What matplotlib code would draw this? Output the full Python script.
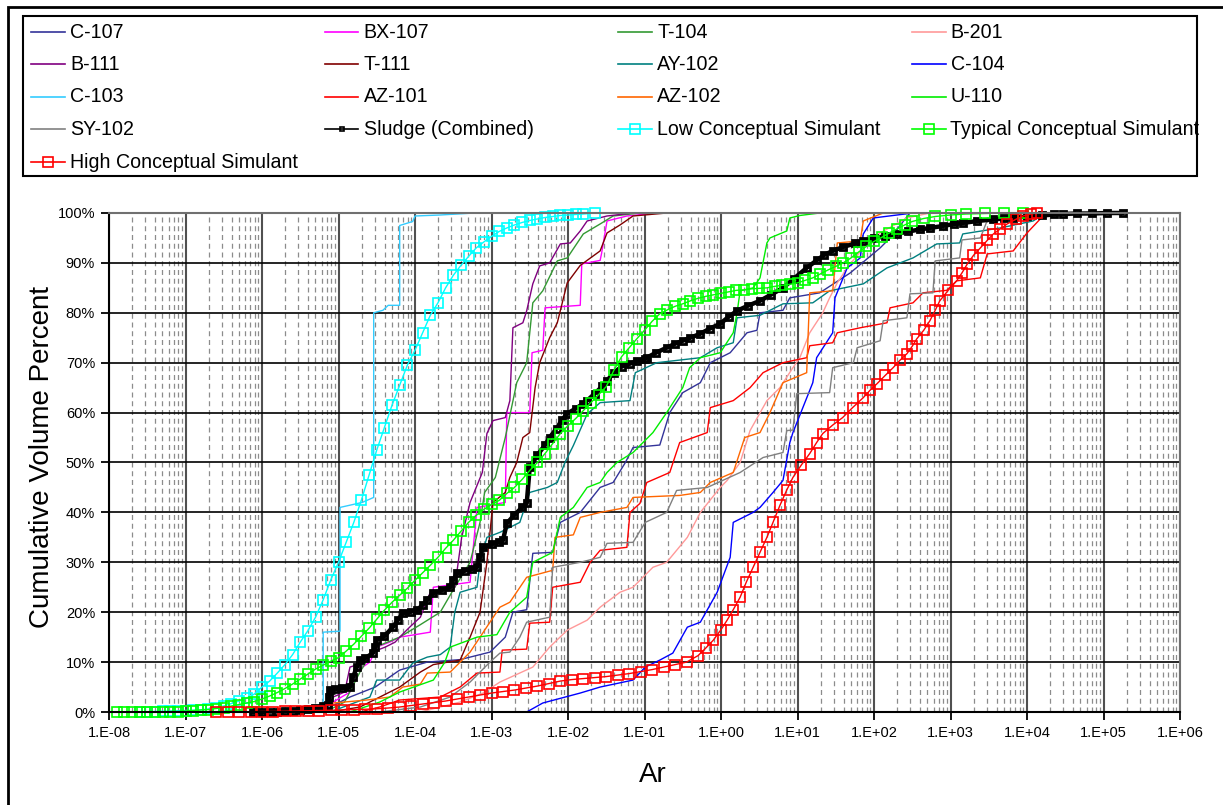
import numpy as np
import matplotlib
matplotlib.use("Agg")
import matplotlib.pyplot as plt
from matplotlib.lines import Line2D
from matplotlib.patches import Rectangle
from matplotlib.ticker import LogLocator, FuncFormatter, NullFormatter

plt.rcParams['font.family'] = ['Liberation Sans', 'DejaVu Sans']

# x values are log10(Ar), y values are cumulative volume %
c107_logar = [-5.50, -5.11, -4.85, -4.52, -4.20, -3.84, -3.41, -3.02, -2.82, -2.72, -2.54, -2.46, -2.20, -2.10, -1.84,
              -1.58, -1.41, -1.25, -1.15, -0.80, -0.67, -0.50, -0.27, -0.14, 0.12, 0.34, 0.47, 0.51, 0.81, 0.90,
              1.29, 1.69, 2.08, 2.21, 2.47]
c107_pct = [0, 1, 3, 5, 8.4, 10, 10.5, 12, 15, 20, 20.5, 31.8, 32, 38, 40, 45, 46, 50, 53, 53.5, 60, 64, 66, 70, 72,
            76, 76.5, 80, 80.5, 83, 84, 88, 93, 95, 100]

bx107_logar = [-5.76, -5.11, -5.07, -4.85, -4.78, -4.59, -4.50, -4.33, -4.20, -3.80, -3.76, -3.28, -3.19, -2.82, -2.80,
               -2.50, -2.47, -2.33, -2.30, -1.84, -1.82, -1.58, -1.56, -1.49, -1.23, -0.84, 0.12]
bx107_pct = [0, 0.5, 2, 4, 8, 10, 13, 14, 15, 16, 25, 26, 41, 42, 60, 60, 72, 72.5, 81, 81.5, 89.8, 90.5, 92, 98.4,
             99.4, 100, 100]

t104_logar = [-5.50, -5.11, -4.92, -4.72, -4.52, -4.20, -3.93, -3.67, -3.48, -3.28, -3.15, -3.09, -2.95, -2.82, -2.67,
              -2.54, -2.46, -2.33, -2.14, -2.01, -1.80, -1.58, -1.41, -1.06, -0.58]
t104_pct = [0, 0.5, 2, 8, 13, 15, 17.5, 20, 25, 30, 38, 44, 47, 55, 66, 70, 82, 84.4, 90.4, 91, 95.8, 97.8, 99.4, 100, 100]

b201_logar = [-3.93, -3.67, -3.41, -3.11, -2.89, -2.46, -2.24, -2.01, -1.75, -1.58, -1.32, -1.15, -0.89, -0.71, -0.44,
              -0.27, -0.01, 0.08, 0.25, 0.38, 0.60, 0.77, 0.94, 1.03, 1.16, 1.33, 1.42, 1.52, 1.65, 1.91, 2.08, 2.43, 2.73]
b201_pct = [0, 1, 2, 3.8, 6, 9, 13, 16.4, 18.4, 21, 24, 25, 29, 30, 35, 40, 45, 46.4, 50, 56.4, 62.4, 65, 69, 71, 76,
            80, 83, 86, 89, 94, 96, 99, 100]

b111_logar = [-5.50, -5.11, -5.07, -4.92, -4.85, -4.65, -4.56, -4.39, -4.26, -4.20, -4.07, -3.93, -3.80, -3.48, -3.39,
              -3.28, -3.12, -3.06, -2.98, -2.82, -2.76, -2.72, -2.59, -2.54, -2.46, -2.37, -2.24, -2.10, -1.97, -1.84,
              -1.75, -1.49, -1.15]
b111_pct = [0, 0.5, 3, 4, 9, 10, 12, 13, 14, 15, 17, 19, 24, 25, 35, 42, 48, 55.8, 58.4, 59, 62.4, 77, 78, 80.4, 85.8,
            89.4, 90, 93.8, 94, 96.4, 98.4, 99.4, 100]

t111_logar = [-5.11, -4.72, -4.46, -4.20, -3.93, -3.76, -3.41, -3.28, -3.15, -3.06, -2.98, -2.82, -2.76, -2.67, -2.59,
              -2.50, -2.43, -2.37, -2.24, -2.14, -2.01, -1.84, -1.58, -1.49, -1.32, -1.15, -0.71, -0.54]
t111_pct = [0, 1, 3, 5, 8, 9.5, 10.4, 15, 20, 30, 42, 44, 47, 50, 55, 56, 65, 70, 75, 78, 86, 89.5, 92.4, 96, 97.6,
            99.4, 100, 100]

ay102_logar = [-5.11, -4.59, -4.50, -4.20, -4.03, -3.84, -3.67, -3.54, -3.48, -3.41, -3.19, -3.15, -3.06, -2.89, -2.76,
               -2.63, -2.50, -2.27, -2.14, -2.04, -1.93, -1.75, -1.58, -1.19, -1.12, -0.84, -0.27, -0.05, 0.16, 0.21,
               0.51, 0.81, 1.20, 1.42, 1.86, 2.17, 2.51, 2.82, 3.12, 3.16, 3.65, 4.08, 4.24]
ay102_pct = [0, 3, 6.4, 6.4, 9.8, 11, 11.5, 13, 20, 24, 25, 30, 35, 36, 37, 38, 44, 45, 46, 50, 53.4, 59.7, 62, 62.4,
             68, 70, 71, 73, 74, 79, 79.5, 81.8, 82, 84.4, 85.8, 89, 91, 93.8, 94, 95.8, 97, 98.4, 100]

c104_logar = [-2.54, -2.33, -1.84, -1.58, -1.15, -0.99, -0.80, -0.63, -0.44, -0.27, -0.05, 0.12, 0.16, 0.42, 0.51,
              0.68, 0.81, 0.90, 0.94, 1.20, 1.25, 1.46, 1.49, 1.65, 1.82, 1.86, 1.99, 2.51]
c104_pct = [0, 1.8, 3.8, 5, 6.4, 9, 10.4, 11.8, 17, 18, 24, 31, 38, 40, 41, 44, 46.4, 54, 56, 66, 71, 76, 83, 89, 91,
            95.8, 99, 100]

c103_logar = [-5.53, -5.20, -5.20, -4.98, -4.98, -4.69, -4.54, -4.54, -4.42, -4.35, -4.20, -4.20, -4.03, -4.00,
              -3.67, -3.22]
c103_pct = [0, 0.5, 16, 16.2, 41, 42, 43, 80, 80.5, 81.5, 81.5, 97.5, 98.3, 99.4, 99.6, 100]

az101_logar = [-4.72, -4.46, -4.20, -3.67, -3.41, -3.19, -2.89, -2.86, -2.54, -2.50, -2.24, -2.20, -1.84, -1.71, -1.58,
               -1.23, -1.19, -1.06, -0.97, -0.67, -0.54, -0.18, -0.14, 0.16, 0.38, 0.55, 0.81, 1.12, 1.16, 1.46,
               1.52, 1.82, 2.17, 2.21, 2.51, 2.64, 2.95, 3.08, 3.39, 3.48, 3.82, 4.00, 4.21, 4.43, 5.44]
az101_pct = [0, 1, 2.4, 3, 5, 7.8, 8, 12.4, 12.6, 17.8, 18, 25, 26, 30, 32.4, 33, 40, 41.8, 46, 48, 54, 56, 61, 62.4,
             65, 68, 70, 71, 73.4, 74, 76, 77, 78, 81, 82, 84, 84.5, 86.4, 87, 91.8, 92.4, 96, 99.4, 100, 100]

az102_logar = [-5.50, -5.07, -4.63, -4.33, -4.16, -3.93, -3.84, -3.54, -3.28, -3.02, -2.89, -2.76, -2.54, -2.20, -2.17,
               -1.93, -1.84, -1.58, -1.23, -1.15, -0.54, -0.27, -0.14, 0.16, 0.31, 0.51, 0.64, 0.81, 1.12, 1.16,
               1.46, 1.52, 1.82, 1.86, 2.12]
az102_pct = [0, 1.8, 2.4, 3, 5, 5.6, 7.8, 8, 12, 18, 21, 22, 27, 28.4, 35, 35.5, 39, 40, 41, 43, 43.4, 44, 46, 48, 55,
             56, 60, 66, 68, 84, 84.4, 94, 94.4, 98.4, 100]

u110_logar = [-4.85, -4.46, -4.20, -3.76, -3.61, -3.54, -3.19, -2.93, -2.76, -2.54, -2.46, -2.20, -2.10, -1.93, -1.75,
              -1.58, -1.49, -1.36, -1.15, -0.89, -0.71, -0.50, -0.41, -0.27, -0.01, 0.16, 0.21, 0.25, 0.42, 0.51,
              0.60, 0.64, 0.86, 0.90, 1.03, 1.29, 2.08]
u110_pct = [0, 2, 4, 6.4, 10, 13, 15, 15.5, 20, 23, 30, 32, 39, 41, 45, 46, 48, 50, 52, 56, 60, 65, 69, 71, 72, 76, 80,
            84.4, 85, 87, 94, 95, 96.4, 99, 99.5, 100, 100]

sy102_logar = [-4.46, -3.93, -3.54, -3.28, -3.02, -2.89, -2.76, -2.63, -2.54, -2.24, -2.20, -1.84, -1.58, -1.49, -1.15,
               -0.99, -0.71, -0.58, -0.18, 0.25, 0.55, 0.81, 0.86, 0.94, 0.99, 1.42, 1.46, 1.73, 1.78, 2.08, 2.12,
               2.43, 2.47, 2.77, 2.80, 3.12, 3.15, 3.39, 3.48, 3.82, 4.26]
sy102_pct = [0, 1, 3, 6, 10, 11.8, 12, 15, 18, 19, 29, 30, 31, 33.8, 34, 38, 40, 44.4, 45, 48, 51, 52, 56.4, 56.5, 63.8,
             64, 69, 70, 73, 74.4, 78.4, 79, 83.8, 84, 90.4, 91, 94.6, 95, 98.5, 99, 100]

sludge_logar = [-6.12, -6.0, -5.9, -5.8, -5.7, -5.6, -5.5, -5.4, -5.31, -5.2,
                -5.14, -5.12, -5.11, -5.05, -4.95, -4.85, -4.81, -4.76, -4.72, -4.65,
                -4.55, -4.52, -4.50, -4.4, -4.29, -4.22, -4.16, -4.05, -3.97, -3.9,
                -3.84, -3.76, -3.65, -3.54, -3.5, -3.45, -3.35, -3.25, -3.19, -3.15,
                -3.11, -3.0, -2.9, -2.85, -2.80, -2.7, -2.6, -2.54, -2.5, -2.4,
                -2.3, -2.24, -2.15, -2.08, -2.01, -1.9, -1.8, -1.75, -1.65, -1.55,
                -1.49, -1.4, -1.3, -1.19, -1.1, -1.0, -0.97, -0.85, -0.71, -0.6,
                -0.5, -0.4, -0.27, -0.15, -0.01, 0.1, 0.21, 0.35, 0.51, 0.65,
                0.81, 0.95, 1.12, 1.25, 1.35, 1.46, 1.6, 1.75, 1.86, 2.0,
                2.15, 2.30, 2.45, 2.6, 2.73, 2.9, 3.05, 3.16, 3.35, 3.55,
                3.7, 3.82, 4.0, 4.2, 4.35, 4.47, 4.65, 4.85, 5.05, 5.25]
sludge_pct = [0, 0, 0.1, 0.1, 0.2, 0.3, 0.4, 0.6, 0.8, 1.2,
              1.5, 3.0, 4.4, 4.6, 4.8, 5.0, 7, 9, 10.4, 10.8,
              11.8, 13, 14.4, 15.2, 17, 18.5, 19.8, 20.1, 20.4, 21.5,
              22.4, 23.8, 24.4, 25, 26.5, 27.8, 28.3, 28.7, 29, 31,
              33, 33.6, 34.1, 34.4, 37.8, 39.5, 41, 41.8, 49, 51.5,
              53.5, 55, 56.8, 58.5, 59.8, 60.8, 61.8, 62.4, 63.8, 65.3,
              66.4, 68.0, 69.2, 69.8, 70.3, 70.8, 71, 72.0, 73, 73.8,
              74.4, 75.0, 75.8, 76.8, 77.8, 79.2, 80.4, 81.4, 82.4, 83.6,
              85, 86.8, 89, 90.5, 91.6, 92.4, 93.2, 93.9, 94.4, 94.9,
              95.4, 95.8, 96.3, 96.7, 97, 97.4, 97.8, 98, 98.4, 98.7,
              98.9, 99, 99.3, 99.5, 99.7, 99.8, 99.9, 99.9, 100, 100]

low_logar = [-7.59, -7.5, -7.4, -7.3, -7.2, -7.1, -7.0, -6.9, -6.8, -6.7, -6.6, -6.5, -6.4, -6.3, -6.2, -6.1, -6.0,
             -5.9, -5.8, -5.7, -5.6, -5.5, -5.4, -5.3, -5.2, -5.1, -5.0, -4.9, -4.8, -4.7, -4.6, -4.5, -4.4, -4.3,
             -4.2, -4.1, -4.0, -3.9, -3.8, -3.7, -3.6, -3.5, -3.4, -3.3, -3.2, -3.1, -3.0, -2.9, -2.8, -2.7, -2.6,
             -2.5, -2.4, -2.3, -2.2, -2.1, -2.0, -1.9, -1.8, -1.65]
low_pct = [0, 0.05, 0.1, 0.15, 0.2, 0.25, 0.3, 0.35, 0.45, 0.6, 0.9, 1.2, 1.7, 2.2, 2.8, 3.6, 5.0, 6.2, 7.8, 9.5,
           11.5, 14, 16.3, 19, 22.5, 26.5, 30, 34, 38, 42.5, 47.5, 52.5, 57, 61.5, 65.5, 69.5, 72.5, 76, 79.5, 82,
           85, 87.5, 89.5, 91.3, 93, 94.2, 95.3, 96.3, 97, 97.6, 98.1, 98.5, 98.8, 99.1, 99.3, 99.5, 99.6, 99.7,
           99.8, 100]

typical_logar = [-7.9, -7.8, -7.7, -7.6, -7.5, -7.4, -7.3, -7.2, -7.1, -7.0,
                 -6.9, -6.8, -6.7, -6.6, -6.5, -6.4, -6.3, -6.2, -6.1, -6.0,
                 -5.9, -5.8, -5.7, -5.6, -5.5, -5.4, -5.3, -5.2, -5.1, -5.0,
                 -4.9, -4.8, -4.7, -4.6, -4.5, -4.4, -4.3, -4.2, -4.1, -4.0,
                 -3.9, -3.8, -3.7, -3.6, -3.5, -3.4, -3.3, -3.2, -3.1, -3.0,
                 -2.9, -2.8, -2.7, -2.6, -2.5, -2.4, -2.3, -2.2, -2.1, -2.0,
                 -1.9, -1.8, -1.7, -1.6, -1.5, -1.4, -1.3, -1.2, -1.1, -1.0,
                 -0.9, -0.8, -0.7, -0.6, -0.5, -0.4, -0.3, -0.2, -0.1, 0.0,
                 0.1, 0.2, 0.3, 0.4, 0.5, 0.6, 0.7, 0.8, 0.9, 1.0,
                 1.1, 1.2, 1.3, 1.4, 1.5, 1.6, 1.7, 1.8, 1.9, 2.0,
                 2.1, 2.2, 2.3, 2.4, 2.5, 2.65, 2.8, 3.0, 3.2, 3.45, 3.7, 3.95]
typical_pct = [0, 0, 0, 0, 0, 0, 0, 0.1, 0.1, 0.2,
               0.3, 0.4, 0.5, 0.7, 0.9, 1.2, 1.5, 1.8, 2.1, 2.6,
               3.2, 3.9, 4.7, 5.6, 6.6, 7.6, 8.6, 9.4, 10.2, 10.9,
               12.2, 13.6, 15.2, 16.8, 18.6, 20.4, 22.0, 23.4, 24.8, 26.4,
               27.9, 29.4, 31.0, 32.8, 34.4, 36.2, 38.0, 39.4, 40.6, 41.6,
               42.4, 43.8, 45.0, 46.6, 48.4, 50.0, 51.8, 53.8, 55.8, 57.4,
               58.8, 60.4, 62.0, 63.6, 65.2, 68.5, 71.2, 73.0, 74.8, 76.5,
               78.3, 79.8, 80.6, 81.3, 81.8, 82.4, 82.9, 83.3, 83.6, 83.9,
               84.2, 84.5, 84.6, 84.8, 84.9, 85.0, 85.3, 85.5, 85.7, 86.0,
               86.5, 87.0, 87.8, 88.6, 89.3, 90.0, 91.0, 92.2, 93.3, 94.3,
               95.1, 96.0, 96.8, 97.6, 98.3, 98.9, 99.3, 99.6, 99.8, 99.9, 100, 100]

high_logar = [-6.6, -6.45, -6.3, -6.15, -6.0, -5.85, -5.7, -5.55, -5.4, -5.25,
              -5.1, -4.95, -4.8, -4.65, -4.5, -4.35, -4.2, -4.05, -3.9, -3.75,
              -3.6, -3.45, -3.3, -3.15, -3.0, -2.85, -2.7, -2.55, -2.4, -2.25,
              -2.1, -1.95, -1.8, -1.65, -1.5, -1.35, -1.2, -1.05, -0.9, -0.75,
              -0.6, -0.45, -0.3, -0.2, -0.1, 0.0, 0.08, 0.16, 0.25, 0.33,
              0.42, 0.51, 0.60, 0.68, 0.77, 0.86, 0.94, 1.05, 1.16, 1.25,
              1.33, 1.46, 1.59, 1.72, 1.86, 1.95, 2.04, 2.15, 2.25, 2.34,
              2.43, 2.5, 2.56, 2.65, 2.73, 2.8, 2.86, 2.97, 3.08, 3.15,
              3.22, 3.3, 3.39, 3.48, 3.56, 3.65, 3.74, 3.85, 3.95, 4.05, 4.13]
high_pct = [0, 0, 0, 0.05, 0.1, 0.1, 0.15, 0.2, 0.25, 0.3,
            0.35, 0.4, 0.5, 0.55, 0.65, 0.8, 1.0, 1.3, 1.6, 1.9,
            2.2, 2.6, 3.0, 3.4, 3.8, 4.1, 4.4, 4.8, 5.2, 5.7,
            6.2, 6.5, 6.7, 6.9, 7.1, 7.4, 7.7, 8.1, 8.5, 9.0,
            9.5, 10.0, 11.3, 12.8, 14.4, 16.5, 18.4, 20.5, 23, 26,
            29, 32, 35, 38, 41.4, 44.5, 47, 49.5, 51.8, 54,
            55.8, 57.5, 59, 61, 63, 64.5, 65.8, 67.5, 69, 70.5,
            71.8, 73.3, 74.8, 76.5, 78.4, 80.5, 82.4, 84.5, 86.4, 88,
            89.8, 91.5, 93, 94.5, 95.8, 96.8, 97.8, 98.7, 99.4, 99.8, 100]

series_names = ['C-107', 'BX-107', 'T-104', 'B-201',
                'B-111', 'T-111', 'AY-102', 'C-104',
                'C-103', 'AZ-101', 'AZ-102', 'U-110',
                'SY-102', 'Sludge (Combined)', 'Low Conceptual Simulant', 'Typical Conceptual Simulant',
                'High Conceptual Simulant']
series_data = [(c107_logar, c107_pct), (bx107_logar, bx107_pct), (t104_logar, t104_pct), (b201_logar, b201_pct),
               (b111_logar, b111_pct), (t111_logar, t111_pct), (ay102_logar, ay102_pct), (c104_logar, c104_pct),
               (c103_logar, c103_pct), (az101_logar, az101_pct), (az102_logar, az102_pct), (u110_logar, u110_pct),
               (sy102_logar, sy102_pct), (sludge_logar, sludge_pct), (low_logar, low_pct),
               (typical_logar, typical_pct), (high_logar, high_pct)]
series_colors = ['#333399', '#FF00FF', '#339933', '#FF9999',
                 '#800080', '#800000', '#008080', '#0000FF',
                 '#33CCFF', '#FF0000', '#FF6600', '#00EE00',
                 '#808080', '#000000', '#00FFFF', '#00FF00',
                 '#FF0000']

W, H = 1223, 805


def fx(px):
    return px / W


def fy(py):
    return 1 - py / H


def style_for(name):
    if name == 'Sludge (Combined)':
        return dict(lw=3.2, marker='s', ms=5, mfc='none', mew=2.0)
    if 'Conceptual' in name:
        return dict(lw=1.0, marker='s', ms=7.5, mfc='none', mew=1.2)
    return dict(lw=1.0, marker=None)


if __name__ == "__main__":
    fig = plt.figure(figsize=(W / 100, H / 100), dpi=100)
    ax = fig.add_axes([fx(109), fy(712), fx(1180) - fx(109), fy(213) - fy(712)])

    for name, (lx, pct), col in zip(series_names, series_data, series_colors):
        ax.plot(10 ** np.array(lx), pct, color=col, mec=col, clip_on=False, **style_for(name))

    ax.set_xscale('log')
    ax.set_xlim(1e-8, 1e6)
    ax.set_ylim(0, 100)
    ax.xaxis.set_major_locator(LogLocator(base=10, numticks=30))
    ax.xaxis.set_minor_locator(LogLocator(base=10, subs=range(2, 10), numticks=200))
    ax.xaxis.set_major_formatter(FuncFormatter(lambda v, _: "1.E%+03d" % int(round(np.log10(v)))))
    ax.xaxis.set_minor_formatter(NullFormatter())
    ax.set_yticks(range(0, 101, 10))
    ax.yaxis.set_major_formatter(FuncFormatter(lambda v, _: "%d%%" % v))

    ax.grid(True, which='minor', axis='x', color='#8c8c8c', linestyle=(0, (4, 3)), lw=0.9)
    ax.grid(True, which='major', axis='x', color='#505050', lw=1.5)
    ax.grid(True, which='major', axis='y', color='black', lw=1.2)
    ax.set_axisbelow(True)

    ax.tick_params(which='major', direction='out', length=6, width=1.3, labelsize=10.5, pad=4)
    ax.tick_params(which='minor', length=0)
    for side in ['left', 'bottom']:
        ax.spines[side].set_linewidth(1.5)
        ax.spines[side].set_color('black')
    for side in ['top', 'right']:
        ax.spines[side].set_linewidth(1.5)
        ax.spines[side].set_color('#707070')

    ax.set_ylabel("Cumulative Volume Percent", fontsize=20)
    ax.yaxis.set_label_coords(-0.050, 0.511)
    ax.set_xlabel("Ar", fontsize=20)
    ax.xaxis.set_label_coords(0.508, -0.100)

    # outer chart border (cut off on the right and bottom) and legend box
    fig.add_artist(Rectangle((fx(8), -0.05), 1.1, fy(7) + 0.05, transform=fig.transFigure,
                             fill=False, edgecolor='black', lw=2))
    fig.add_artist(Rectangle((fx(23), fy(176)), fx(1197) - fx(23), fy(16) - fy(176), transform=fig.transFigure,
                             fill=False, edgecolor='black', lw=1.5))

    # legend entries, row-major like the original
    for i, (name, col) in enumerate(zip(series_names, series_colors)):
        r, c = divmod(i, 4)
        x0 = 31 + 293.5 * c
        yy = fy(32 + 32.5 * r)
        fig.add_artist(Line2D([fx(x0), fx(x0 + 34)], [yy, yy], transform=fig.transFigure, color=col, lw=1.2))
        if name == 'Sludge (Combined)':
            fig.add_artist(Line2D([fx(x0 + 17)], [yy], transform=fig.transFigure, marker='s', ms=3.5,
                                  mfc='none', mec=col, mew=1.2))
        elif 'Conceptual' in name:
            fig.add_artist(Line2D([fx(x0 + 17)], [yy], transform=fig.transFigure, marker='s', ms=7,
                                  mfc='none', mec=col, mew=1.2))
        fig.text(fx(x0 + 39), yy, name, fontsize=14.1, va='center', ha='left')

    fig.savefig("out.png", dpi=100)
